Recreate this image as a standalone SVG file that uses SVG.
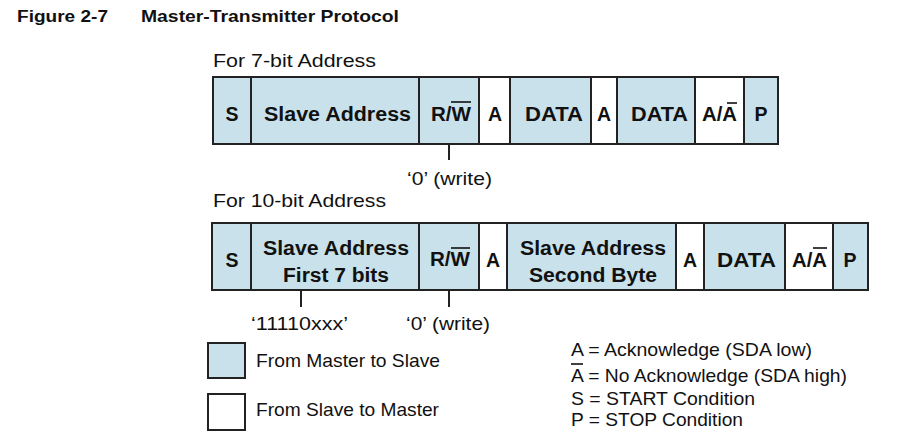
<svg xmlns="http://www.w3.org/2000/svg" width="910" height="445" viewBox="0 0 910 445">
<style>
text{font-family:"Liberation Sans",Arial,sans-serif;fill:#111}
.t{font-weight:bold;font-size:16.7px}
.r{font-size:18.5px}
.b{font-weight:bold;font-size:19.5px}
.m{text-anchor:middle}
.blue{fill:#C9E1EA;stroke:#222;stroke-width:2}
.white{fill:#fff;stroke:#222;stroke-width:2}
.ln{stroke:#222;stroke-width:2;fill:none}
.ov{stroke:#111;stroke-width:1.6}
</style>
<rect width="910" height="445" fill="#fff"/>
<g id="title">
<text class="t" x="17" y="22" textLength="91" lengthAdjust="spacingAndGlyphs">Figure 2-7</text>
<text class="t" x="141" y="22" textLength="258" lengthAdjust="spacingAndGlyphs">Master-Transmitter Protocol</text>
</g>
<g id="row7">
<text class="r" x="213" y="67" textLength="163" lengthAdjust="spacingAndGlyphs">For 7-bit Address</text>
<g id="r7-s"><rect class="blue" x="213" y="77" width="38" height="67"/><text class="b m" x="232" y="121">S</text></g>
<g id="r7-addr"><rect class="blue" x="251" y="77" width="168" height="67"/><text class="b" x="264" y="121" textLength="147" lengthAdjust="spacingAndGlyphs">Slave Address</text></g>
<g id="r7-rw"><rect class="blue" x="419" y="77" width="60" height="67"/><text class="b" x="431" y="121" textLength="40" lengthAdjust="spacingAndGlyphs">R/W</text><line class="ov" x1="451" y1="102" x2="471" y2="102"/></g>
<g id="r7-a1"><rect class="white" x="479" y="77" width="31" height="67"/><text class="b m" x="495" y="121">A</text></g>
<g id="r7-data1"><rect class="blue" x="510" y="77" width="81" height="67"/><text class="b" x="525" y="121" textLength="58" lengthAdjust="spacingAndGlyphs">DATA</text></g>
<g id="r7-a2"><rect class="white" x="591" y="77" width="26" height="67"/><text class="b m" x="604" y="121">A</text></g>
<g id="r7-data2"><rect class="blue" x="617" y="77" width="78" height="67"/><text class="b" x="631" y="121" textLength="57" lengthAdjust="spacingAndGlyphs">DATA</text></g>
<g id="r7-an"><rect class="white" x="695" y="77" width="49" height="67"/><text class="b" x="702" y="121" textLength="35" lengthAdjust="spacingAndGlyphs">A/A</text><line class="ov" x1="727" y1="103" x2="737" y2="103"/></g>
<g id="r7-p"><rect class="blue" x="744" y="77" width="34" height="67"/><text class="b m" x="761" y="121">P</text></g>
<text class="r" x="407" y="185" textLength="85" lengthAdjust="spacingAndGlyphs">‘0’ (write)</text>
</g>
<g id="row10">
<text class="r" x="213" y="207" textLength="173" lengthAdjust="spacingAndGlyphs">For 10-bit Address</text>
<g id="r10-s"><rect class="blue" x="212" y="223" width="39" height="67"/><text class="b m" x="232" y="267">S</text></g>
<g id="r10-addr1"><rect class="blue" x="251" y="223" width="168" height="67"/><text class="b" x="263" y="255" textLength="146" lengthAdjust="spacingAndGlyphs">Slave Address</text><text class="b" x="283" y="282" textLength="106" lengthAdjust="spacingAndGlyphs">First 7 bits</text></g>
<g id="r10-rw"><rect class="blue" x="419" y="223" width="60" height="67"/><text class="b" x="430" y="266" textLength="40" lengthAdjust="spacingAndGlyphs">R/W</text><line class="ov" x1="451" y1="248" x2="470" y2="248"/></g>
<g id="r10-a1"><rect class="white" x="479" y="223" width="28" height="67"/><text class="b m" x="493" y="267">A</text></g>
<g id="r10-addr2"><rect class="blue" x="507" y="223" width="169" height="67"/><text class="b" x="520" y="255" textLength="146" lengthAdjust="spacingAndGlyphs">Slave Address</text><text class="b" x="529" y="282" textLength="128" lengthAdjust="spacingAndGlyphs">Second Byte</text></g>
<g id="r10-a2"><rect class="white" x="676" y="223" width="28" height="67"/><text class="b m" x="690" y="267">A</text></g>
<g id="r10-data"><rect class="blue" x="704" y="223" width="81" height="67"/><text class="b" x="717" y="267" textLength="59" lengthAdjust="spacingAndGlyphs">DATA</text></g>
<g id="r10-an"><rect class="white" x="785" y="223" width="48" height="67"/><text class="b" x="792" y="267" textLength="35" lengthAdjust="spacingAndGlyphs">A/A</text><line class="ov" x1="813" y1="248" x2="827" y2="248"/></g>
<g id="r10-p"><rect class="blue" x="833" y="223" width="35" height="67"/><text class="b m" x="850" y="267">P</text></g>
<text class="r" x="251" y="330" textLength="97" lengthAdjust="spacingAndGlyphs">‘11110xxx’</text>
<text class="r" x="406" y="330" textLength="84" lengthAdjust="spacingAndGlyphs">‘0’ (write)</text>
</g>
<g id="connectors">
<line class="ln" x1="449" y1="144" x2="449" y2="160"/>
<line class="ln" x1="301" y1="290" x2="301" y2="307"/>
<line class="ln" x1="449" y1="290" x2="449" y2="307"/>
</g>
<g id="legend">
<rect class="blue" x="208" y="343" width="37" height="35"/>
<text class="r" x="256" y="367" textLength="184" lengthAdjust="spacingAndGlyphs">From Master to Slave</text>
<rect class="white" x="208" y="394" width="37" height="36"/>
<text class="r" x="256" y="416" textLength="183" lengthAdjust="spacingAndGlyphs">From Slave to Master</text>
<text class="r" x="571" y="356" textLength="241" lengthAdjust="spacingAndGlyphs">A = Acknowledge (SDA low)</text>
<text class="r" x="571" y="382" textLength="276" lengthAdjust="spacingAndGlyphs">A = No Acknowledge (SDA high)</text>
<line class="ov" x1="571" y1="364" x2="583" y2="364"/>
<text class="r" x="571" y="405" textLength="184" lengthAdjust="spacingAndGlyphs">S = START Condition</text>
<text class="r" x="571" y="426" textLength="172" lengthAdjust="spacingAndGlyphs">P = STOP Condition</text>
</g>
</svg>
